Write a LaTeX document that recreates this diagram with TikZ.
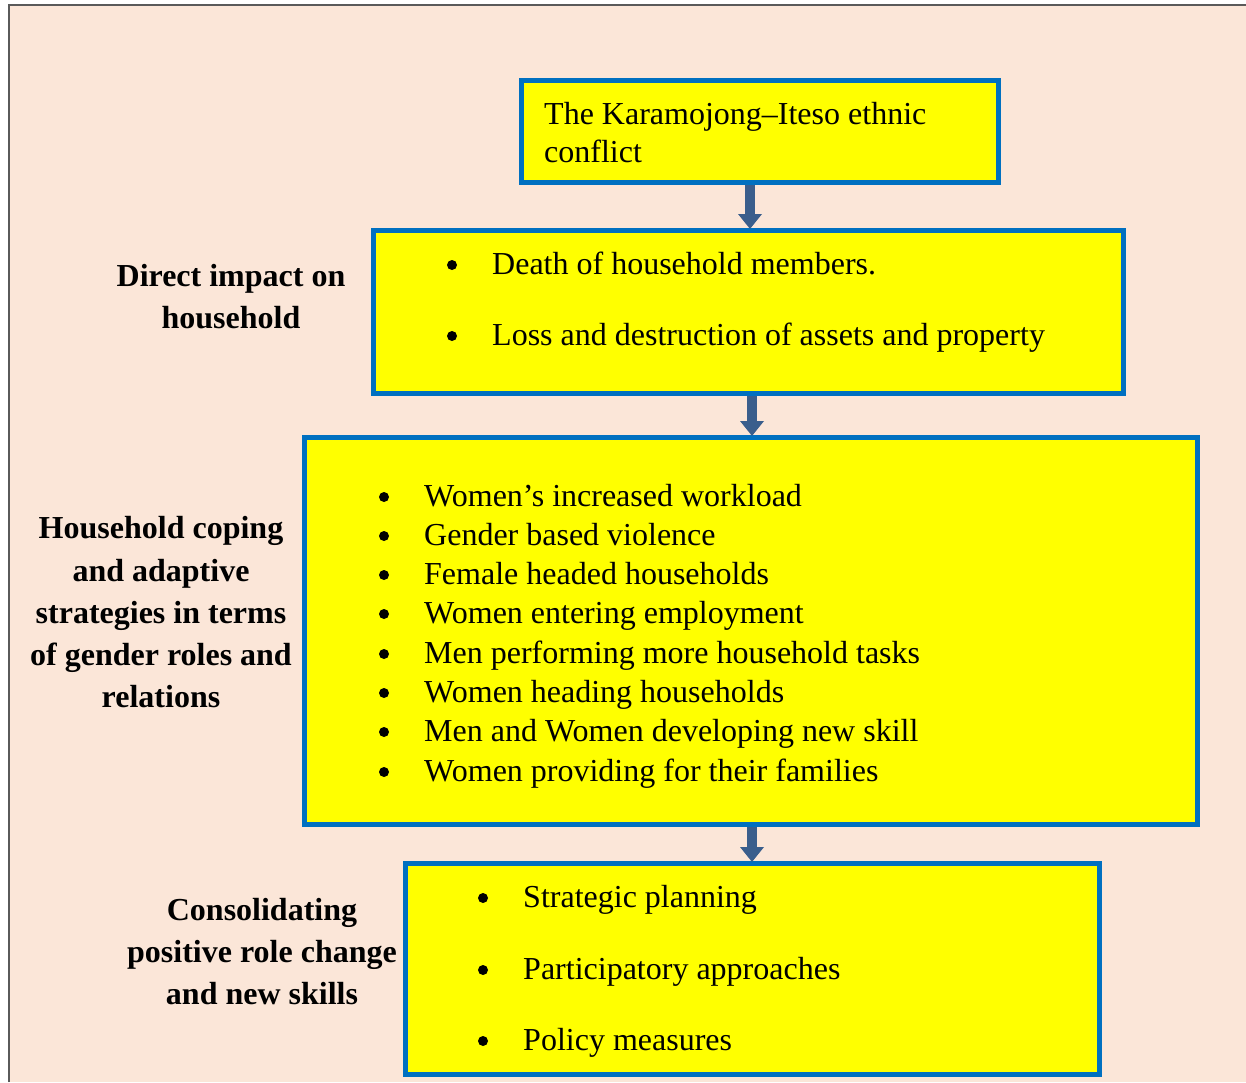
\documentclass[tikz,border=0pt]{standalone}
\usepackage{fontspec}
\setmainfont{Liberation Serif}
\usetikzlibrary{arrows.meta}
\definecolor{peach}{HTML}{FBE6D8}
\definecolor{boxblue}{HTML}{0070C0}
\definecolor{arrowblue}{HTML}{3A5E8C}
\definecolor{framegrey}{HTML}{5A5A5A}
\definecolor{byellow}{HTML}{FFFF00}
\tikzset{
  ybox/.style={draw=boxblue, line width=5pt, fill=byellow, inner sep=0pt, anchor=north west},
  txt/.style={inner sep=0pt, anchor=base west, font=\fontsize{32}{38}\selectfont},
  bul/.style={circle, fill=black, inner sep=0pt, minimum size=10pt},
  lbl/.style={inner sep=0pt, anchor=base, font=\fontsize{32}{38}\selectfont\bfseries},
  flow/.style={draw=arrowblue, line width=10pt, -{Triangle[width=23pt,length=15pt]}, shorten >=-1pt}
}
\begin{document}
\begin{tikzpicture}[x=1pt,y=-1pt]
\useasboundingbox (0,0) rectangle (1246,1082);
\fill[peach] (9,5) rectangle (1246,1082);
\draw[framegrey, line width=1.5pt] (9,1082) -- (9,5) -- (1246,5);
% boxes
\node[ybox, minimum width=477pt, minimum height=102pt] (b1) at (519,78) {};
\node[ybox, minimum width=750pt, minimum height=163pt] (b2) at (371,228) {};
\node[ybox, minimum width=893pt, minimum height=387pt] (b3) at (302,435) {};
\node[ybox, minimum width=694pt, minimum height=211pt] (b4) at (403,861) {};
% arrows
\draw[flow] (b1.south -| 750,0) -- (b2.north -| 750,0);
\draw[flow] (b2.south -| 752,0) -- (b3.north -| 752,0);
\draw[flow] (b3.south -| 752,0) -- (b4.north -| 752,0);
% box 1 text
\node[txt] (t1a) at (544,124) {The Karamojong–Iteso ethnic};
\node[txt] (t1b) at (544,162) {conflict};
% box 2
\node[bul] (p2a) at (452,265) {};
\node[txt] (t2a) at (492,274) {Death of household members.};
\node[bul] (p2b) at (452,336) {};
\node[txt] (t2b) at (492,345) {Loss and destruction of assets and property};
% box 3
\foreach \i/\yy/\t in {1/506/Women’s increased workload,
  2/545/Gender based violence,
  3/584/Female headed households,
  4/623/Women entering employment,
  5/663/Men performing more household tasks,
  6/702/Women heading households,
  7/741/Men and Women developing new skill,
  8/781/Women providing for their families}{
  \node[bul] (p3\i) at (384,\yy-9) {};
  \node[txt] (t3\i) at (424,\yy) {\t};
}
% box 4
\node[bul] (p4a) at (483,898) {};
\node[txt] (t4a) at (523,907) {Strategic planning};
\node[bul] (p4b) at (483,970) {};
\node[txt] (t4b) at (523,979) {Participatory approaches};
\node[bul] (p4c) at (483,1041) {};
\node[txt] (t4c) at (523,1050) {Policy measures};
% left labels
\node[lbl] (l1a) at (231,286) {Direct impact on};
\node[lbl] (l1b) at (231,328) {household};
\node[lbl] (l2a) at (161,538) {Household coping};
\node[lbl] (l2b) at (161,581) {and adaptive};
\node[lbl] (l2c) at (161,623) {strategies in terms};
\node[lbl] (l2d) at (161,665) {of gender roles and};
\node[lbl] (l2e) at (161,707) {relations};
\node[lbl] (l3a) at (262,920) {Consolidating};
\node[lbl] (l3b) at (262,962) {positive role change};
\node[lbl] (l3c) at (262,1004) {and new skills};
\end{tikzpicture}
\end{document}
